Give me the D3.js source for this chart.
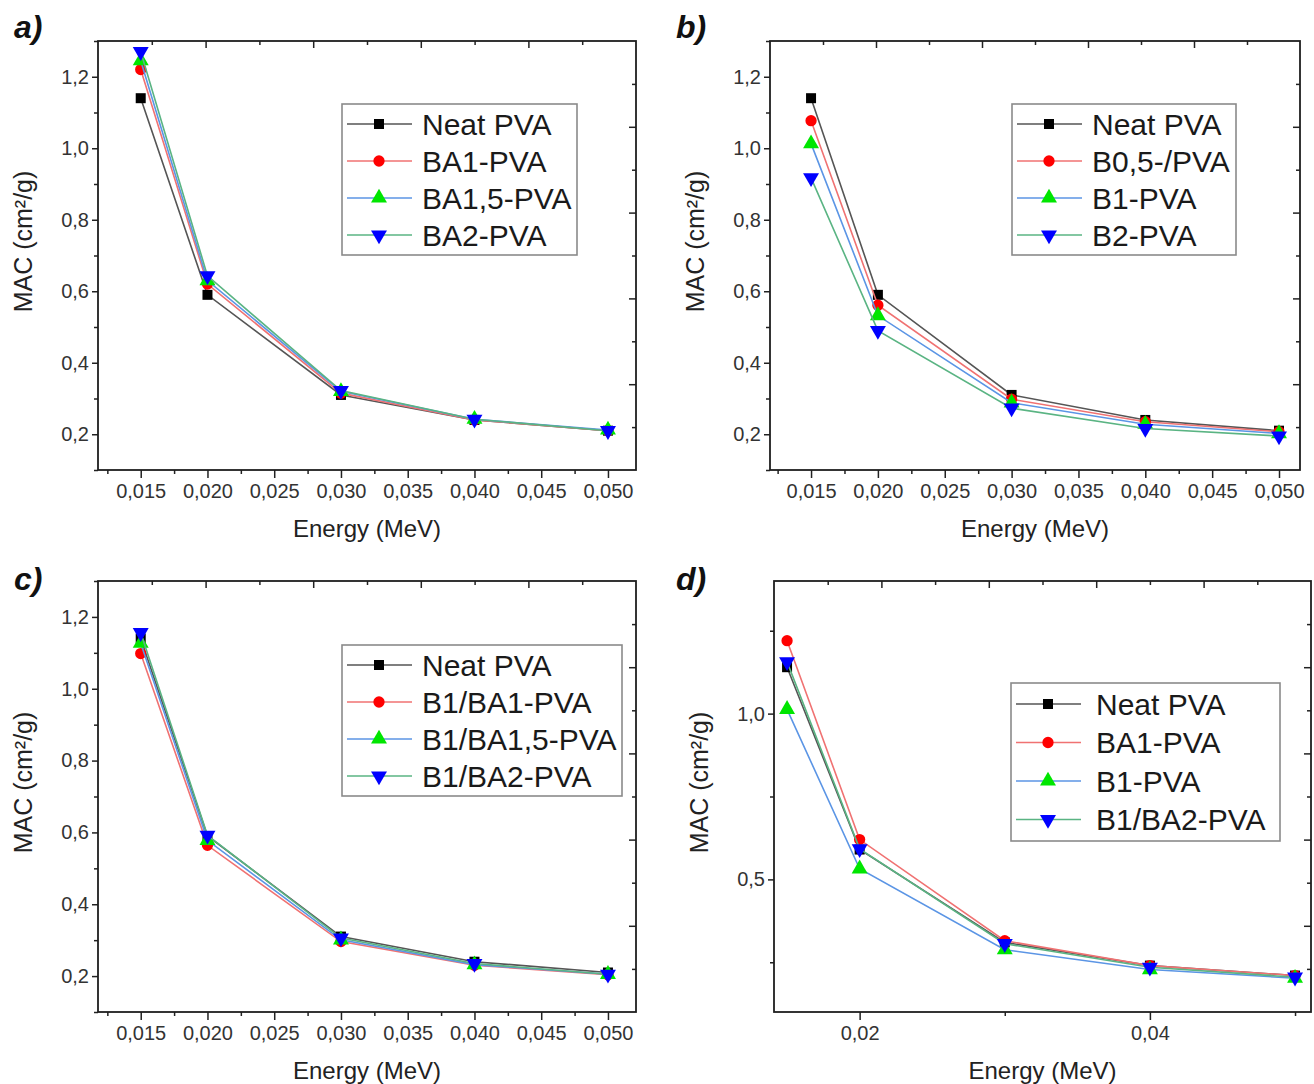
<!DOCTYPE html>
<html>
<head>
<meta charset="utf-8">
<script src="https://cdn.jsdelivr.net/npm/d3@7"></script>
<style>
  body { margin: 0; background: #fff; }
  text { font-family: "Liberation Sans", Arial, sans-serif; }
</style>
</head>
<body>
<svg id="chart" width="1314" height="1084"></svg>
<script>
// ---- data ----
var energies = [0.015, 0.020, 0.030, 0.040, 0.050];

var macNeat   = [1.14, 0.59, 0.31, 0.24, 0.21];
var macBA1    = [1.22, 0.62, 0.315, 0.24, 0.21];
var macBA15   = [1.245, 0.63, 0.32, 0.242, 0.212];
var macBA2    = [1.27, 0.643, 0.322, 0.242, 0.21];
var macB05    = [1.077, 0.561, 0.298, 0.235, 0.207];
var macB1     = [1.013, 0.532, 0.288, 0.228, 0.202];
var macB2     = [0.917, 0.49, 0.273, 0.216, 0.195];
var macB1BA1  = [1.098, 0.564, 0.296, 0.23, 0.204];
var macB1BA15 = [1.127, 0.578, 0.301, 0.232, 0.205];
var macB1BA2  = [1.156, 0.592, 0.306, 0.235, 0.205];

var namesA = ["Neat PVA", "BA1-PVA", "BA1,5-PVA", "BA2-PVA"];
var namesB = ["Neat PVA", "B0,5-/PVA", "B1-PVA", "B2-PVA"];
var namesC = ["Neat PVA", "B1/BA1-PVA", "B1/BA1,5-PVA", "B1/BA2-PVA"];
var namesD = ["Neat PVA", "BA1-PVA", "B1-PVA", "B1/BA2-PVA"];

var xTicksFine   = [0.015, 0.020, 0.025, 0.030, 0.035, 0.040, 0.045, 0.050];
var yTicksFine   = [0.2, 0.4, 0.6, 0.8, 1.0, 1.2];
var xTicksCoarse = [0.02, 0.04];
var yTicksCoarse = [0.5, 1.0];

// ---- styles ----
var lineColors   = ["#555555", "#f07272", "#5b95e5", "#5ab483"];
var markerColors = ["#000000", "#ff0000", "#00e600", "#0000ff"];
var markerShapes = [
  {type: d3.symbolSquare,   size: 100, rot: 0},
  {type: d3.symbolCircle,   size: 100, rot: 0},
  {type: d3.symbolTriangle, size: 110, rot: 0},
  {type: d3.symbolTriangle, size: 110, rot: 180}
];

var panels = [
  {label: "a)", lx: 14, ly: 38, left: 98, right: 636, top: 41, bottom: 470,
   xDomain: [0.0118, 0.0521], yDomain: [0.1, 1.3], xTicks: xTicksFine, yTicks: yTicksFine,
   xFmt: ".3f", yFmt: ".1f", names: namesA, series: [macNeat, macBA1, macBA15, macBA2],
   legend: {x: 342, y: 104, w: 235, h: 151, row: 37, first: 20, text: 80}},
  {label: "b)", lx: 676, ly: 38, left: 770, right: 1300, top: 41, bottom: 470,
   xDomain: [0.01193, 0.05157], yDomain: [0.1, 1.3], xTicks: xTicksFine, yTicks: yTicksFine,
   xFmt: ".3f", yFmt: ".1f", names: namesB, series: [macNeat, macB05, macB1, macB2],
   legend: {x: 1012, y: 104, w: 224, h: 151, row: 37, first: 20, text: 80}},
  {label: "c)", lx: 14, ly: 590, left: 98, right: 636, top: 581, bottom: 1012,
   xDomain: [0.0118, 0.0521], yDomain: [0.1, 1.3], xTicks: xTicksFine, yTicks: yTicksFine,
   xFmt: ".3f", yFmt: ".1f", names: namesC, series: [macNeat, macB1BA1, macB1BA15, macB1BA2],
   legend: {x: 342, y: 645, w: 280, h: 151, row: 37, first: 20, text: 80}},
  {label: "d)", lx: 676, ly: 590, left: 774, right: 1311, top: 581, bottom: 1012,
   xDomain: [0.0141, 0.0511], yDomain: [0.1, 1.4], xTicks: xTicksCoarse, yTicks: yTicksCoarse,
   xFmt: ".2f", yFmt: ".1f", names: namesD, series: [macNeat, macBA1, macB1, macB1BA2],
   legend: {x: 1011, y: 683, w: 269, h: 158, row: 38.5, first: 21, text: 85}}
];

var svg = d3.select("#chart");

function minorTicks(domain, major) {
  var step = (major[1] - major[0]) / 2;
  var lo = Math.min(domain[0], domain[1]), hi = Math.max(domain[0], domain[1]);
  var base = major[0], out = [];
  for (var k = Math.ceil((lo - base) / step - 1e-9); base + k * step <= hi + 1e-9; k++) {
    var v = base + k * step;
    if (!major.some(function(m) { return Math.abs(m - v) < step / 10; })) out.push(v);
  }
  return out;
}

function comma(fmt) {
  var f = d3.format(fmt);
  return function(d) { return f(d).replace(".", ","); };
}

function styleAxis(sel) {
  sel.select(".domain").remove();
  sel.selectAll(".tick line").attr("stroke", "#222").attr("stroke-width", 1.5);
  sel.selectAll(".tick text").attr("font-size", 20).attr("fill", "#333");
}

function symbolPath(i) {
  return d3.symbol().type(markerShapes[i].type).size(markerShapes[i].size)();
}

panels.forEach(function(p) {
  var g = svg.append("g");
  var x = d3.scaleLinear().domain(p.xDomain).range([p.left, p.right]);
  var y = d3.scaleLinear().domain(p.yDomain).range([p.bottom, p.top]);
  // mirrored top/right axes belong to an unlinked layer: evenly spaced ticks
  var fx = d3.scaleLinear().domain([0, 1]).range([p.left, p.right]);
  var fy = d3.scaleLinear().domain([0, 1]).range([p.top, p.bottom]);
  var fMajor = [0.2, 0.4, 0.6, 0.8], fMinor = [0.1, 0.3, 0.5, 0.7, 0.9];

  // bottom axis
  g.append("g").attr("transform", "translate(0," + p.bottom + ")")
    .call(d3.axisBottom(x).tickValues(p.xTicks).tickSize(8).tickPadding(6).tickFormat(comma(p.xFmt)))
    .call(styleAxis);
  g.append("g").attr("transform", "translate(0," + p.bottom + ")")
    .call(d3.axisBottom(x).tickValues(minorTicks(p.xDomain, p.xTicks)).tickSize(4).tickFormat(""))
    .call(styleAxis);
  // left axis
  g.append("g").attr("transform", "translate(" + p.left + ",0)")
    .call(d3.axisLeft(y).tickValues(p.yTicks).tickSize(6).tickPadding(3).tickFormat(comma(p.yFmt)))
    .call(styleAxis);
  g.append("g").attr("transform", "translate(" + p.left + ",0)")
    .call(d3.axisLeft(y).tickValues(minorTicks(p.yDomain, p.yTicks)).tickSize(4).tickFormat(""))
    .call(styleAxis);
  // top axis (inward)
  g.append("g").attr("transform", "translate(0," + p.top + ")")
    .call(d3.axisTop(fx).tickValues(fMajor).tickSize(-7).tickFormat("")).call(styleAxis);
  g.append("g").attr("transform", "translate(0," + p.top + ")")
    .call(d3.axisTop(fx).tickValues(fMinor).tickSize(-4).tickFormat("")).call(styleAxis);
  // right axis (inward)
  g.append("g").attr("transform", "translate(" + p.right + ",0)")
    .call(d3.axisRight(fy).tickValues(fMajor).tickSize(-7).tickFormat("")).call(styleAxis);
  g.append("g").attr("transform", "translate(" + p.right + ",0)")
    .call(d3.axisRight(fy).tickValues(fMinor).tickSize(-4).tickFormat("")).call(styleAxis);

  // frame
  g.append("rect")
    .attr("x", p.left).attr("y", p.top)
    .attr("width", p.right - p.left).attr("height", p.bottom - p.top)
    .attr("fill", "none").attr("stroke", "#1e1e1e").attr("stroke-width", 1.8);

  // series
  var line = d3.line().x(function(d) { return x(d[0]); }).y(function(d) { return y(d[1]); });
  p.series.forEach(function(vals, i) {
    var pts = energies.map(function(e, j) { return [e, vals[j]]; });
    g.append("path").datum(pts)
      .attr("d", line).attr("fill", "none")
      .attr("stroke", lineColors[i]).attr("stroke-width", 1.6);
    g.selectAll(null).data(pts).enter().append("path")
      .attr("d", symbolPath(i))
      .attr("transform", function(d) {
        return "translate(" + x(d[0]) + "," + y(d[1]) + ") rotate(" + markerShapes[i].rot + ")";
      })
      .attr("fill", markerColors[i]);
  });

  // legend
  var L = p.legend;
  var lg = g.append("g").attr("transform", "translate(" + L.x + "," + L.y + ")");
  lg.append("rect").attr("width", L.w).attr("height", L.h)
    .attr("fill", "#fff").attr("stroke", "#8a8a8a").attr("stroke-width", 1.6);
  p.names.forEach(function(name, i) {
    var ry = L.first + i * L.row;
    lg.append("line").attr("x1", 5).attr("x2", 70).attr("y1", ry).attr("y2", ry)
      .attr("stroke", lineColors[i]).attr("stroke-width", 1.6);
    lg.append("path").attr("d", symbolPath(i))
      .attr("transform", "translate(37," + ry + ") rotate(" + markerShapes[i].rot + ")")
      .attr("fill", markerColors[i]);
    lg.append("text").attr("x", L.text).attr("y", ry).attr("dy", "0.36em")
      .attr("font-size", 30).attr("fill", "#1a1a1a").text(name);
  });

  // axis titles
  var cy = (p.top + p.bottom) / 2 - 14;
  g.append("text")
    .attr("transform", "translate(" + (p.left - 66) + "," + cy + ") rotate(-90)")
    .attr("text-anchor", "middle").attr("font-size", 25).attr("fill", "#222")
    .text("MAC (cm²/g)");
  g.append("text")
    .attr("x", (p.left + p.right) / 2).attr("y", p.bottom + 67)
    .attr("text-anchor", "middle").attr("font-size", 24).attr("fill", "#222")
    .text("Energy (MeV)");

  // panel letter
  g.append("text").attr("x", p.lx).attr("y", p.ly)
    .attr("font-size", 32).attr("font-weight", "bold").attr("font-style", "italic")
    .attr("fill", "#111").text(p.label);
});
</script>
</body>
</html>
